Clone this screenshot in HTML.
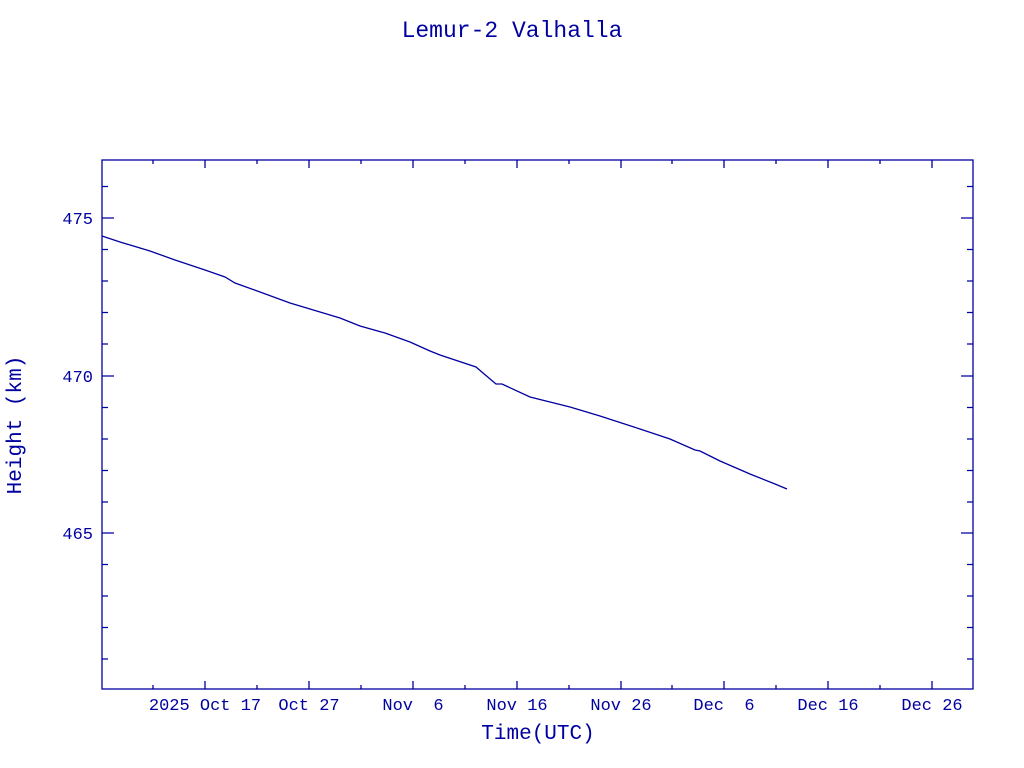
<!DOCTYPE html>
<html><head><style>body{margin:0;background:#fff}svg{display:block}text{font-family:"Liberation Mono","DejaVu Sans Mono",monospace;fill:#0000a0;white-space:pre}</style></head><body>
<svg width="1024" height="768" xmlns="http://www.w3.org/2000/svg">
<text x="512" y="37" font-size="23" text-anchor="middle">Lemur-2 Valhalla</text>
<rect x="102" y="160" width="871" height="529" fill="none" stroke="#0000a0" stroke-width="1.3"/>
<g stroke="#0000a0" stroke-width="1.3">
<path d="M102 218h12M973 218h-12M102 376h12M973 376h-12M102 533h12M973 533h-12"/>
<path d="M102 186.5h6M973 186.5h-6M102 249.5h6M973 249.5h-6M102 281h6M973 281h-6M102 312.5h6M973 312.5h-6M102 344h6M973 344h-6M102 407.5h6M973 407.5h-6M102 439h6M973 439h-6M102 470.5h6M973 470.5h-6M102 502h6M973 502h-6M102 564.5h6M973 564.5h-6M102 596h6M973 596h-6M102 627.5h6M973 627.5h-6M102 659h6M973 659h-6"/>
<path d="M205 689v-8M205 160v8M309 689v-8M309 160v8M413 689v-8M413 160v8M517 689v-8M517 160v8M621 689v-8M621 160v8M724 689v-8M724 160v8M828 689v-8M828 160v8M932 689v-8M932 160v8"/>
<path d="M153 689v-4M153 160v4M257 689v-4M257 160v4M361 689v-4M361 160v4M465 689v-4M465 160v4M569 689v-4M569 160v4M672 689v-4M672 160v4M776 689v-4M776 160v4M880 689v-4M880 160v4"/>
</g>
<polyline fill="none" stroke="#0000a0" stroke-width="1.3" points="102,236 120,242 150,251 175,260 205,270 225,277 235,283 260,292 290,303 320,312 340,318 360,326 385,333 410,342 430,351 440,355 476,367 483,373 496,384 502,384 530,397 570,407 600,416 640,429 670,439 695,450 700,451 720,461 750,474 775,484 787,489"/>
<g font-size="17" text-anchor="end">
<text x="93" y="224">475</text><text x="93" y="382">470</text><text x="93" y="539">465</text>
</g>
<g font-size="17" text-anchor="middle">
<text x="205" y="710">2025 Oct 17</text><text x="309" y="710">Oct 27</text><text x="413" y="710">Nov  6</text><text x="517" y="710">Nov 16</text><text x="621" y="710">Nov 26</text><text x="724" y="710">Dec  6</text><text x="828" y="710">Dec 16</text><text x="932" y="710">Dec 26</text>
</g>
<text x="538" y="739" font-size="21" text-anchor="middle">Time(UTC)</text>
<text transform="translate(21,425) rotate(-90)" font-size="21" text-anchor="middle">Height (km)</text>
</svg>
</body></html>
